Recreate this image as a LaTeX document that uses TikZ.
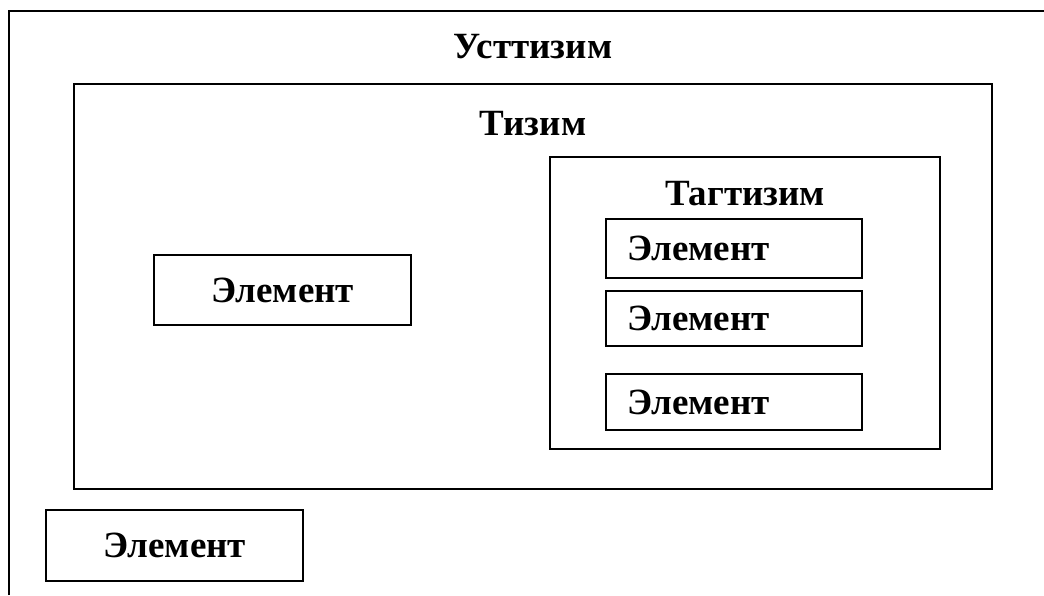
\documentclass[tikz,border=0pt]{standalone}
\usepackage{fontspec}
\setmainfont{Liberation Serif}
\usetikzlibrary{positioning}

\begin{document}
\begin{tikzpicture}[x=1pt, y=-1pt, line width=1.1pt,
		font=\fontsize{37}{42}\selectfont\bfseries,
		box/.style={draw, rectangle, inner sep=0pt},
		elem/.style={box, minimum width=257pt, minimum height=70pt},
		subelem/.style={box, minimum width=256pt, text width=214pt, align=left}]
		\useasboundingbox (0,0) rectangle (1044,595);
		\draw (9,595) -- (9,11) -- (1044,11);
		\node (usttizim) at (533,47) {Усттизим};
		\node[box, minimum width=918pt, minimum height=405pt] (tizim) at (533,286.5) {};
		\node (tizimlbl) at (533,124) {Тизим};
		\node[elem] (e1) at (282.5,290) {Элемент};
		\node[box, minimum width=390pt, minimum height=292pt] (tagtizim) at (745,303) {};
		\node (tagtizimlbl) at (745,194) {Тагтизим};
		\node[subelem, minimum height=59pt] (e2) at (734,248.5) {Элемент};
		\node[subelem, minimum height=55pt] (e3) at (734,318.5) {Элемент};
		\node[subelem, minimum height=56pt] (e4) at (734,402) {Элемент};
		\node[elem, minimum height=71pt] (e5) at (174.5,545.5) {Элемент};
	\end{tikzpicture}
\end{document}
